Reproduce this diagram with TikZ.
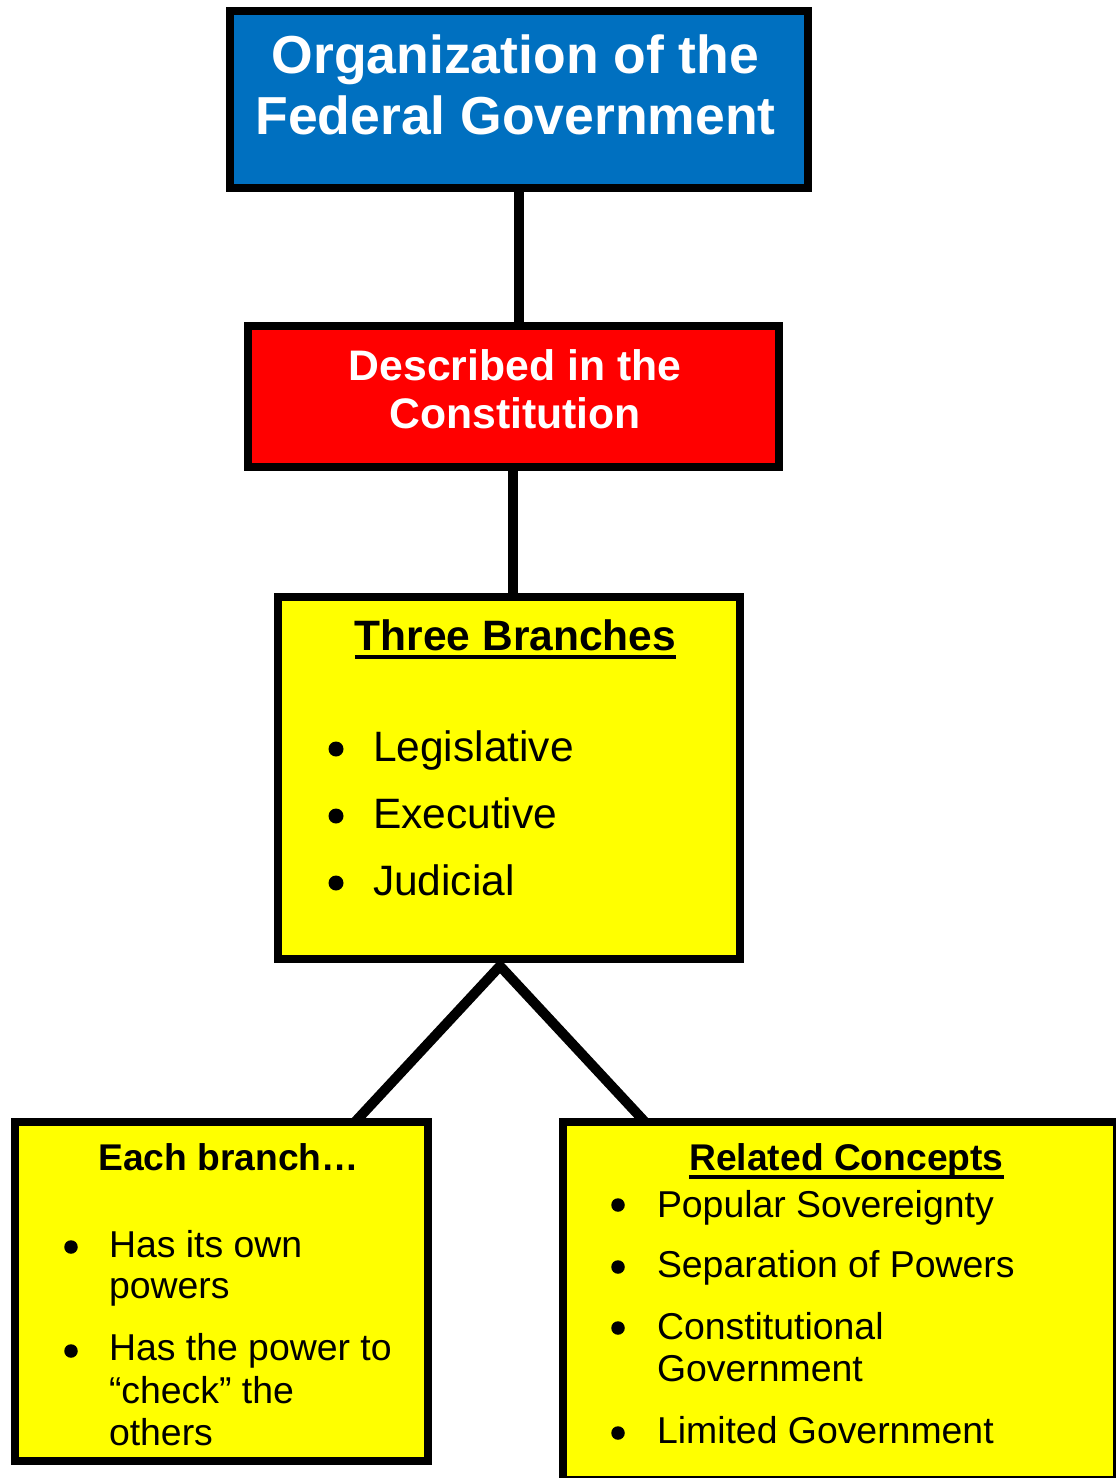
\documentclass[tikz,border=0pt]{standalone}
\usepackage{fontspec}
\setmainfont{Liberation Sans}
\pgfdeclarelayer{back}
\pgfsetlayers{back,main}
\definecolor{govblue}{RGB}{0,112,192}
\definecolor{govred}{RGB}{255,0,0}
\definecolor{govyellow}{RGB}{255,255,0}
\begin{document}
\begin{tikzpicture}[x=1pt,y=-1pt,
  box/.style={draw=black, line width=8pt, inner sep=0pt, rectangle},
  link/.style={draw=black, line width=10pt, line join=miter},
  line/.style={inner sep=0pt, outer sep=0pt},
  titletext/.style={line, anchor=base, text=white, font=\fontsize{53.5}{61}\selectfont\bfseries},
  redtext/.style={line, anchor=base, text=white, font=\fontsize{42.7}{48}\selectfont\bfseries},
  bighead/.style={line, anchor=base, font=\fontsize{42.5}{48}\selectfont\bfseries},
  bigitem/.style={line, anchor=base west, font=\fontsize{42.5}{48}\selectfont},
  smallhead/.style={line, anchor=base, font=\fontsize{37.2}{42}\selectfont\bfseries},
  smallitem/.style={line, anchor=base west, font=\fontsize{37.4}{42}\selectfont},
  bigdot/.style={circle, fill=black, inner sep=0pt, minimum size=15pt},
  smalldot/.style={circle, fill=black, inner sep=0pt, minimum size=13.5pt},
  uline/.style={draw=black, line width=4pt}
]
\useasboundingbox (0,0) rectangle (1116,1478);
\clip (0,0) rectangle (1116,1478);

% boxes
\node[box, fill=govblue, minimum width=578pt, minimum height=177pt] (org) at (519,99.5) {};
\node[box, fill=govred, minimum width=531pt, minimum height=141pt] (const) at (513.5,396.5) {};
\node[box, fill=govyellow, minimum width=462pt, minimum height=362pt] (three) at (509,778) {};
\node[box, fill=govyellow, minimum width=413pt, minimum height=339pt] (each) at (221.5,1291.5) {};
\node[box, fill=govyellow, minimum width=554pt, minimum height=358pt] (rel) at (840,1301) {};

% connectors
\coordinate (fork) at (500,966);
\coordinate (lfoot) at (355,1122);
\coordinate (rfoot) at (645,1122);
\begin{pgfonlayer}{back}
  \draw[link] (org.center |- org.south) -- (org.center |- const.north);
  \draw[link] (512.5,0 |- const.center) -- (512.5,0 |- three.north);
  \draw[link] (lfoot) -- (fork) -- (rfoot);
\end{pgfonlayer}

% title box
\node[titletext] (t1) at (515.5,73) {Organization of the};
\node[titletext] (t2) at (515.5,134) {Federal Government};

% constitution box
\node[redtext] (c1) at (515,380) {Described in the};
\node[redtext] (c2) at (515,428) {Constitution};

% three branches box
\node[bighead] (bh) at (515.5,650) {Three Branches};
\draw[uline] ([yshift=-7pt]bh.base west) -- ([yshift=-7pt]bh.base east);
\node[bigdot] (bd1) at (336,749) {};
\node[bigdot] (bd2) at (336,816) {};
\node[bigdot] (bd3) at (336,883) {};
\node[bigitem] (bi1) at (373,761) {Legislative};
\node[bigitem] (bi2) at (373,828) {Executive};
\node[bigitem] (bi3) at (373,895) {Judicial};

% each branch box
\node[smallhead] (eh) at (228.5,1170) {Each branch…};
\node[smalldot] (ed1) at (71,1247) {};
\node[smalldot] (ed2) at (71,1351) {};
\node[smallitem] (ei1) at (109,1257) {Has its own};
\node[smallitem] (ei2) at (109,1298) {powers};
\node[smallitem] (ei3) at (109,1360) {Has the power to};
\node[smallitem] (ei4) at (109,1403) {“check” the};
\node[smallitem] (ei5) at (109,1445) {others};

% related concepts box
\node[smallhead] (rh) at (846.5,1170) {Related Concepts};
\draw[uline] ([yshift=-7pt]rh.base west) -- ([yshift=-7pt]rh.base east);
\node[smalldot] (rd1) at (618,1205) {};
\node[smalldot] (rd2) at (618,1267) {};
\node[smalldot] (rd3) at (618,1328) {};
\node[smalldot] (rd4) at (618,1433) {};
\node[smallitem] (ri1) at (657,1217) {Popular Sovereignty};
\node[smallitem] (ri2) at (657,1277) {Separation of Powers};
\node[smallitem] (ri3) at (657,1339) {Constitutional};
\node[smallitem] (ri4) at (657,1381) {Government};
\node[smallitem] (ri5) at (657,1443) {Limited Government};
\end{tikzpicture}
\end{document}
